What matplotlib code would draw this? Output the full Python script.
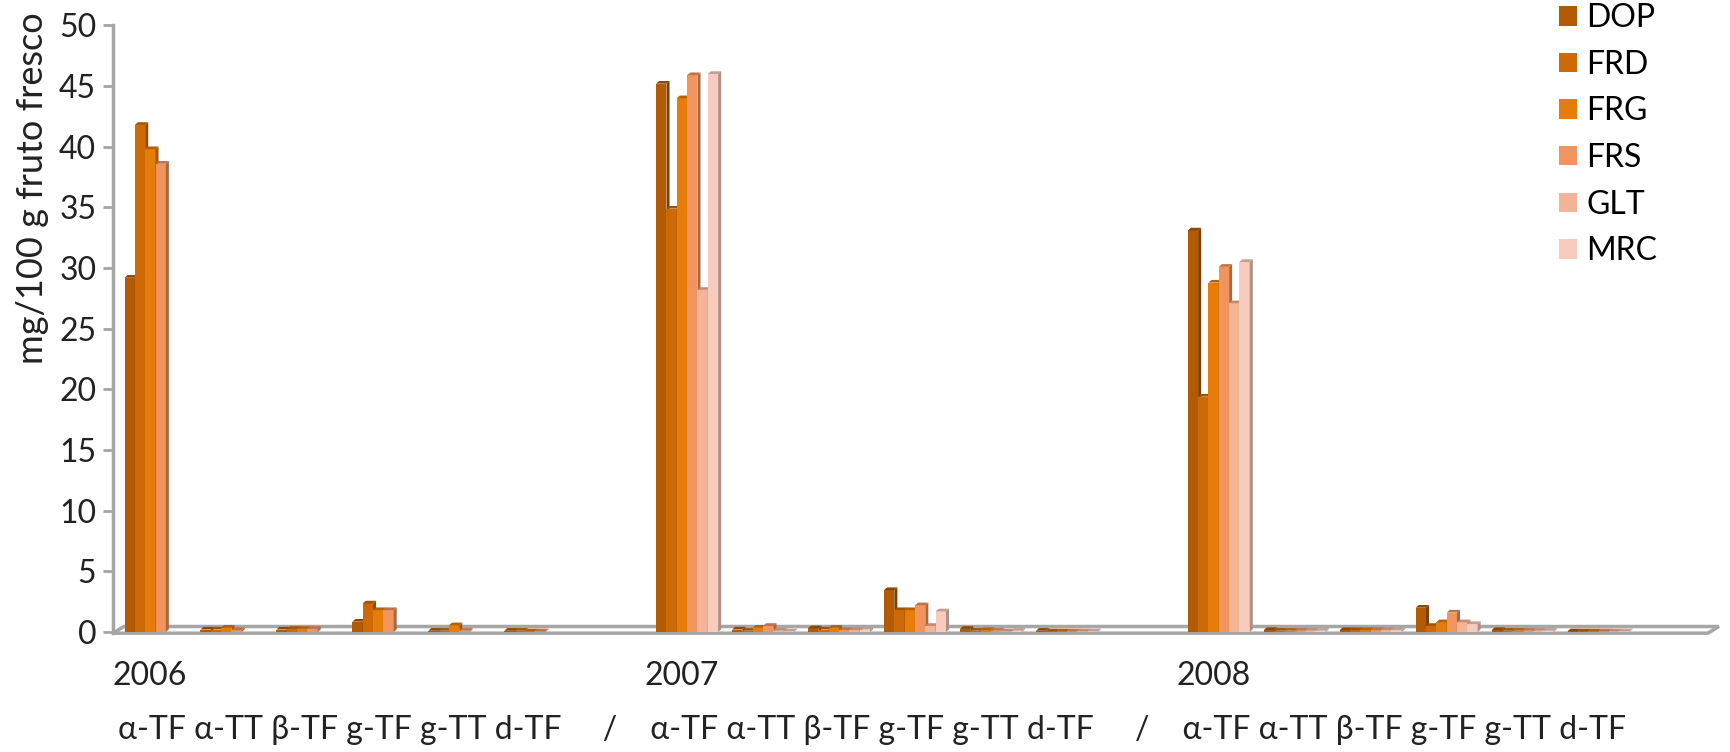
import numpy as np
import matplotlib
matplotlib.use('Agg')
import matplotlib.pyplot as plt
from matplotlib.patches import Polygon, Patch
from matplotlib.colors import to_rgb

#-------------------------- Data ----------------------------------------#
years = ['2006', '2007', '2008']
compounds = ['α-TF', 'α-TT', 'β-TF', 'g-TF', 'g-TT', 'd-TF']
series = ['DOP', 'FRD', 'FRG', 'FRS', 'GLT', 'MRC']
colors = ['#B35A04', '#CD6A06', '#E67C0A', '#F1945E', '#F4B498', '#F7CCBE']

nan = np.nan
# values ordered year by year, 6 compounds per year
DOP = [29.2, 0.2, 0.2, 0.85, 0.1, 0.1,
       45.2, 0.2, 0.3, 3.45, 0.25, 0.1,
       33.1, 0.15, 0.15, 2.0, 0.15, 0.05]
FRD = [41.8, 0.2, 0.25, 2.35, 0.1, 0.1,
       34.9, 0.1, 0.2, 1.8, 0.1, 0.05,
       19.4, 0.1, 0.15, 0.5, 0.1, 0.05]
FRG = [39.8, 0.35, 0.25, 1.8, 0.55, 0.05,
       44.0, 0.35, 0.35, 1.8, 0.15, 0.05,
       28.8, 0.1, 0.15, 0.8, 0.1, 0.05]
FRS = [38.6, 0.15, 0.25, 1.8, 0.1, 0.05,
       45.9, 0.5, 0.15, 2.2, 0.1, 0.05,
       30.1, 0.1, 0.15, 1.6, 0.1, 0.05]
GLT = [nan, nan, nan, nan, nan, nan,
       28.2, 0.1, 0.15, 0.5, 0.05, 0.05,
       27.1, 0.1, 0.15, 0.8, 0.1, 0.05]
MRC = [nan, nan, nan, nan, nan, nan,
       46.0, 0.05, 0.2, 1.7, 0.1, 0.05,
       30.5, 0.1, 0.15, 0.65, 0.1, 0.05]
values = [DOP, FRD, FRG, FRS, GLT, MRC]

#-------------------------- Plot ----------------------------------------#
plt.rcParams['font.family'] = ['Lato', 'DejaVu Sans']
FS = 23
GRAY = '#A6A6A6'
TXT = '#222222'

fig = plt.figure(figsize=(17.3, 7.52), dpi=100)
ax = fig.add_axes([0.0653, 0.1435, 0.9285, 0.8388])
ax.set_xlim(-0.5, 20.65)
ax.set_ylim(-1, 51)

# slots: 6 compounds + 1 empty slot per year
n_slots = 7 * len(years)
bw = 0.136          # bar width
dx, dy = 0.04, 0.22  # bar depth
shift = 0.06

def shade(c, f):
    r, g, b = to_rgb(c)
    return (r * f, g * f, b * f)

# floor
fdx, fdy = 0.145, 0.55
floor = Polygon([(-0.5, -0.1), (n_slots - 0.5, -0.1),
                 (n_slots - 0.5 + fdx, -0.1 + fdy), (-0.5 + fdx, -0.1 + fdy)],
                closed=True, facecolor='white', edgecolor=GRAY, lw=2.5,
                zorder=1, clip_on=False)
ax.add_patch(floor)

z = 2
for yi in range(len(years)):
    for ci in range(len(compounds)):
        slot = yi * 7 + ci
        k = yi * 6 + ci
        for si, name in enumerate(series):
            v = values[si][k]
            if np.isnan(v):
                continue
            x0 = slot - 3 * bw + si * bw + shift
            c = colors[si]
            ax.bar(x0, v, width=bw, align='edge', color=c, lw=0, zorder=z)
            top = Polygon([(x0, v), (x0 + dx, v + dy), (x0 + bw + dx, v + dy),
                           (x0 + bw, v)], closed=True, facecolor=shade(c, 0.78),
                          lw=0, zorder=z)
            side = Polygon([(x0 + bw, 0), (x0 + bw + dx, dy), (x0 + bw + dx, v + dy),
                            (x0 + bw, v)], closed=True, facecolor=shade(c, 0.7),
                           lw=0, zorder=z)
            ax.add_patch(side)
            ax.add_patch(top)
            z += 1

# axes styling
for s in ['top', 'right', 'bottom']:
    ax.spines[s].set_visible(False)
ax.spines['left'].set_color(GRAY)
ax.spines['left'].set_linewidth(2.5)
ax.spines['left'].set_bounds(-0.1, 50)
ax.set_yticks(range(0, 51, 5))
ax.tick_params(axis='y', colors=GRAY, length=7, width=2, labelsize=FS,
               labelcolor=TXT, pad=5)
ax.set_xticks([])

# category labels
for yi, yr in enumerate(years):
    ax.text(yi * 7 - 0.5, -3.6, yr, fontsize=FS, color=TXT,
            ha='left', va='center', clip_on=False)
sep = '     /    '
line2 = sep.join([' '.join(compounds)] * len(years))
ax.text(-0.43, -8.1, line2, fontsize=FS, color=TXT, ha='left',
        va='center', clip_on=False)

fig.text(33 / 1730, 1 - 188 / 752, 'mg/100 g fruto fresco', rotation=90,
         fontsize=26, color=TXT, ha='center', va='center')

handles = [Patch(facecolor=c, edgecolor='none') for c in colors]
ax.legend(handles, series, loc='upper left', bbox_to_anchor=(1556 / 1730, 1.0),
          bbox_transform=fig.transFigure, frameon=False, fontsize=FS,
          handlelength=0.55, handleheight=0.55, handletextpad=0.3,
          labelspacing=0.52, borderpad=0.1, borderaxespad=0)

fig.savefig('out.png', dpi=100)
